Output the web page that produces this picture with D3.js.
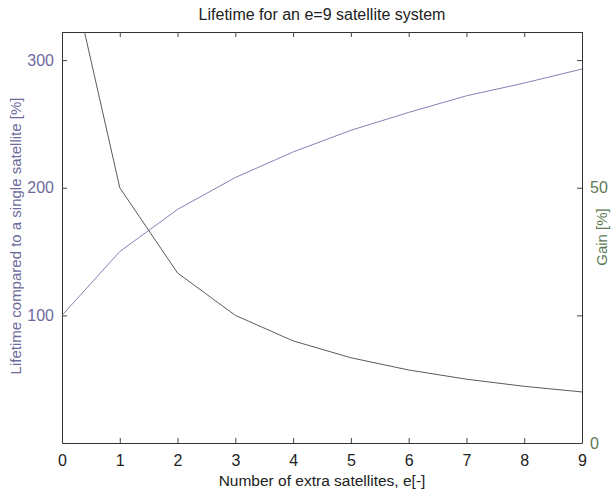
<!DOCTYPE html>
<html>
<head>
<meta charset="utf-8">
<script src="https://cdn.jsdelivr.net/npm/d3@7"></script>
<style>
  body { margin: 0; background: #fff; }
  text { font-family: "Liberation Sans", Arial, sans-serif; }
</style>
</head>
<body>
<div id="chart"></div>
<script>
// data
var extraSats = [0, 1, 2, 3, 4, 5, 6, 7, 8, 9];
var lifetime = [100, 150, 183, 208, 228, 245, 259, 272, 282, 293];
var gain = [100, 50, 33.3, 25, 20, 16.7, 14.3, 12.5, 11.1, 10];
var xTicks = [0, 1, 2, 3, 4, 5, 6, 7, 8, 9];
var leftTicks = [100, 200, 300];
var rightTicks = [0, 25, 50, 75];
var rightLabels = ["0", "", "50", ""];

var svgWidth = 614;
var svgHeight = 493;

var margin = { top: 32, right: 32, bottom: 50, left: 62 };
var width = svgWidth - margin.left - margin.right;
var height = svgHeight - margin.top - margin.bottom;

var leftColor = "#6d6a9c";
var rightColor = "#5d7a52";

var svg = d3.select("#chart").append("svg")
    .attr("width", svgWidth)
    .attr("height", svgHeight);

var chartGroup = svg.append("g")
    .attr("transform", `translate(${margin.left}, ${margin.top})`);

var xScale = d3.scaleLinear().domain([0, 9]).range([0, width]);
var yLeft = d3.scaleLinear().domain([0, 322]).range([height, 0]);
var yRight = d3.scaleLinear().domain([0, 80.5]).range([height, 0]);

// clip for the curves
svg.append("defs").append("clipPath").attr("id", "plotClip")
  .append("rect").attr("width", width).attr("height", height);

// bottom axis, ticks pointing inward
var bottomAxis = d3.axisBottom(xScale).tickValues(xTicks).tickSizeInner(-5).tickSizeOuter(0).tickPadding(12);
var xAxis = chartGroup.append("g")
    .attr("transform", `translate(0, ${height})`)
    .call(bottomAxis);
xAxis.selectAll("text").attr("font-size", 16).attr("fill", "#222");

// top axis (ticks only)
var topAxis = d3.axisTop(xScale).tickValues(xTicks).tickSizeInner(-5).tickSizeOuter(0).tickFormat("");
chartGroup.append("g").call(topAxis);

// left axis
var leftAxis = d3.axisLeft(yLeft).tickValues(leftTicks).tickSizeInner(-5).tickSizeOuter(0).tickPadding(8);
var yAxisL = chartGroup.append("g").call(leftAxis);
yAxisL.selectAll("text").attr("font-size", 16).attr("fill", leftColor);

// right axis
var rightAxis = d3.axisRight(yRight).tickValues(rightTicks).tickSizeInner(-5).tickSizeOuter(0).tickPadding(8)
    .tickFormat((d, i) => rightLabels[i]);
var yAxisR = chartGroup.append("g")
    .attr("transform", `translate(${width}, 0)`)
    .call(rightAxis);
yAxisR.selectAll("text").attr("font-size", 16).attr("fill", rightColor);

chartGroup.selectAll(".domain").attr("stroke", "#333");
chartGroup.selectAll(".tick line").attr("stroke", "#444");

// lifetime curve
var lifeLine = d3.line()
    .x((d, i) => xScale(extraSats[i]))
    .y(d => yLeft(d));

chartGroup.append("path")
    .datum(lifetime)
    .attr("clip-path", "url(#plotClip)")
    .attr("fill", "none")
    .attr("stroke", "#8482b4")
    .attr("stroke-width", 1)
    .attr("d", lifeLine);

// gain curve
var gainLine = d3.line()
    .x((d, i) => xScale(extraSats[i]))
    .y(d => yRight(d));

chartGroup.append("path")
    .datum(gain)
    .attr("clip-path", "url(#plotClip)")
    .attr("fill", "none")
    .attr("stroke", "#5a5a5a")
    .attr("stroke-width", 1)
    .attr("d", gainLine);

// title and labels
svg.append("text")
    .attr("x", margin.left + width / 2)
    .attr("y", 20)
    .attr("text-anchor", "middle")
    .attr("font-size", 16)
    .attr("fill", "#222")
    .text("Lifetime for an e=9 satellite system");

svg.append("text")
    .attr("x", margin.left + width / 2)
    .attr("y", 486)
    .attr("text-anchor", "middle")
    .attr("font-size", 15.5)
    .attr("fill", "#222")
    .text("Number of extra satellites, e[-]");

svg.append("text")
    .attr("transform", `translate(21, 236) rotate(-90)`)
    .attr("text-anchor", "middle")
    .attr("font-size", 15)
    .attr("fill", leftColor)
    .text("Lifetime compared to a single satellite [%]");

svg.append("text")
    .attr("transform", `translate(607, 237) rotate(-90)`)
    .attr("text-anchor", "middle")
    .attr("font-size", 15)
    .attr("fill", rightColor)
    .text("Gain [%]");
</script>
</body>
</html>
